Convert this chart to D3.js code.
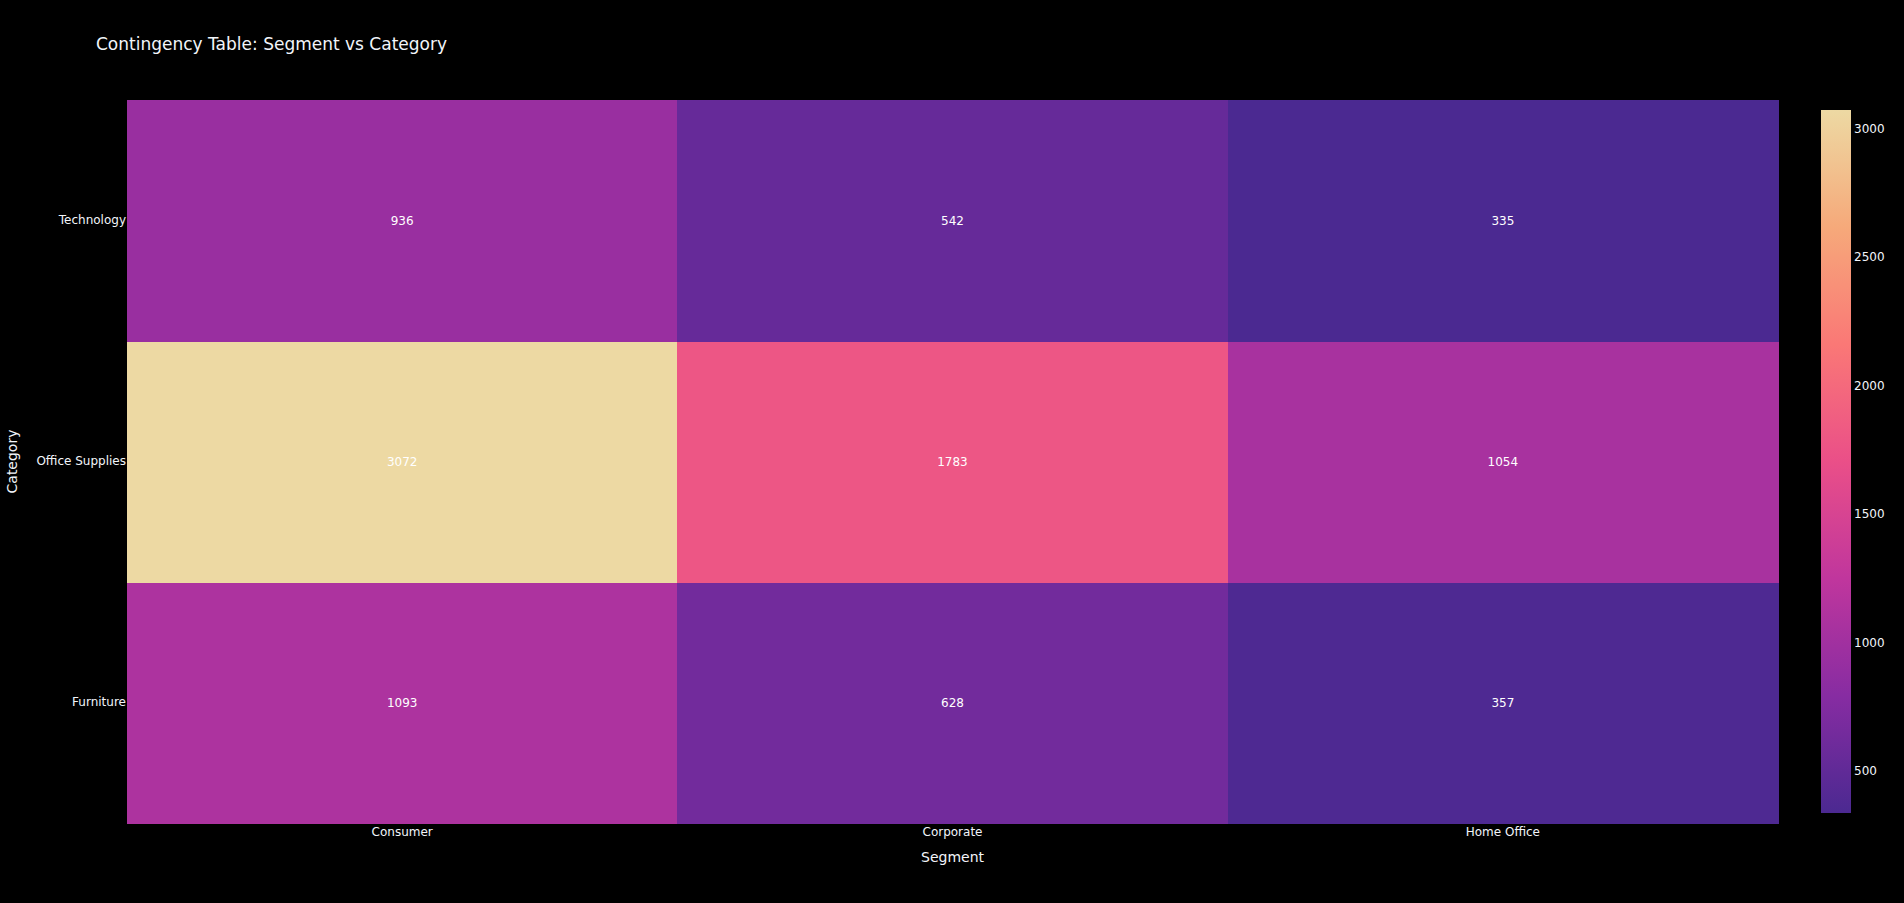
<!DOCTYPE html>
<html>
<head>
<meta charset="utf-8">
<script src="https://cdn.jsdelivr.net/npm/d3@7"></script>
<style>
  html, body { margin: 0; padding: 0; background: #000; }
  svg { display: block; }
  text { font-family: "DejaVu Sans", Verdana, sans-serif; fill: #f2f5fa; }
</style>
</head>
<body>
<script>
const segments = ["Consumer", "Corporate", "Home Office"];
const categories = ["Furniture", "Office Supplies", "Technology"];
// values[categoryIndex][segmentIndex]
const furnitureValues = [1093, 628, 357];
const officeSuppliesValues = [3072, 1783, 1054];
const technologyValues = [936, 542, 335];
const colorbarTicks = [500, 1000, 1500, 2000, 2500, 3000];
const agsunset = ["rgb(75,41,145)", "rgb(135,44,162)", "rgb(192,54,157)", "rgb(234,79,136)", "rgb(250,120,118)", "rgb(246,169,122)", "rgb(237,217,163)"];

const rows = [furnitureValues, officeSuppliesValues, technologyValues];
const cells = [];
rows.forEach((vals, ci) => vals.forEach((v, si) => cells.push({cat: categories[ci], seg: segments[si], value: v})));

const W = 1904, H = 903;
const plot = {left: 127, right: 1778, top: 100, bottom: 823};

const svg = d3.select("body").append("svg").attr("width", W).attr("height", H);
svg.append("rect").attr("width", W).attr("height", H).attr("fill", "#000");

const x = d3.scaleBand().domain(segments).range([plot.left, plot.right]).padding(0);
const y = d3.scaleBand().domain(categories).range([plot.bottom, plot.top]).padding(0);

const all = cells.map(d => d.value);
const vmin = d3.min(all), vmax = d3.max(all);
const stops = agsunset.map((c, i) => vmin + (vmax - vmin) * i / (agsunset.length - 1));
const color = d3.scaleLinear().domain(stops).range(agsunset).interpolate(d3.interpolateRgb);

// cells
svg.append("g").attr("shape-rendering", "crispEdges").selectAll("rect").data(cells).join("rect")
  .attr("x", d => x(d.seg))
  .attr("y", d => y(d.cat))
  .attr("width", x.bandwidth() + 0.5)
  .attr("height", y.bandwidth() + 0.5)
  .attr("fill", d => color(d.value));

svg.append("g").selectAll("text").data(cells).join("text")
  .attr("x", d => x(d.seg) + x.bandwidth() / 2)
  .attr("y", d => y(d.cat) + y.bandwidth() / 2)
  .attr("dy", "0.35em")
  .attr("text-anchor", "middle")
  .style("font-size", "12px")
  .style("fill", "#ffffff")
  .text(d => d.value);

// axes
const xAxis = svg.append("g").attr("transform", `translate(0,${plot.bottom})`)
  .call(d3.axisBottom(x).tickSize(0).tickPadding(4));
xAxis.select(".domain").remove();
xAxis.selectAll("text").style("font-size", "12px").attr("fill", "#f2f5fa");

const yAxis = svg.append("g").attr("transform", `translate(${plot.left},0)`)
  .call(d3.axisLeft(y).tickSize(0).tickPadding(1));
yAxis.select(".domain").remove();
yAxis.selectAll("text").style("font-size", "12px").attr("fill", "#f2f5fa");

// axis titles
svg.append("text")
  .attr("x", (plot.left + plot.right) / 2).attr("y", 862)
  .attr("text-anchor", "middle").style("font-size", "14px").text("Segment");
svg.append("text")
  .attr("transform", `translate(17,${(plot.top + plot.bottom) / 2}) rotate(-90)`)
  .attr("text-anchor", "middle").style("font-size", "14px").text("Category");

// title
svg.append("text").attr("x", 96).attr("y", 50).style("font-size", "17px")
  .text("Contingency Table: Segment vs Category");

// colorbar
const cb = {x: 1821, w: 30};
const cy = d3.scaleLinear().domain([vmin, vmax]).range([813, 110]);
const defs = svg.append("defs");
const grad = defs.append("linearGradient").attr("id", "cbgrad")
  .attr("x1", 0).attr("y1", 1).attr("x2", 0).attr("y2", 0);
grad.selectAll("stop").data(stops).join("stop")
  .attr("offset", (d, i) => i / (stops.length - 1))
  .attr("stop-color", (d, i) => agsunset[i]);
svg.append("rect").attr("x", cb.x).attr("y", cy(vmax)).attr("width", cb.w)
  .attr("height", cy(vmin) - cy(vmax)).attr("fill", "url(#cbgrad)");
const cAxis = svg.append("g").attr("transform", `translate(${cb.x + cb.w},0)`)
  .call(d3.axisRight(cy).tickValues(colorbarTicks).tickFormat(d3.format("d")).tickSize(0).tickPadding(3));
cAxis.select(".domain").remove();
cAxis.selectAll("text").style("font-size", "12px").attr("fill", "#f2f5fa");
</script>
</body>
</html>
